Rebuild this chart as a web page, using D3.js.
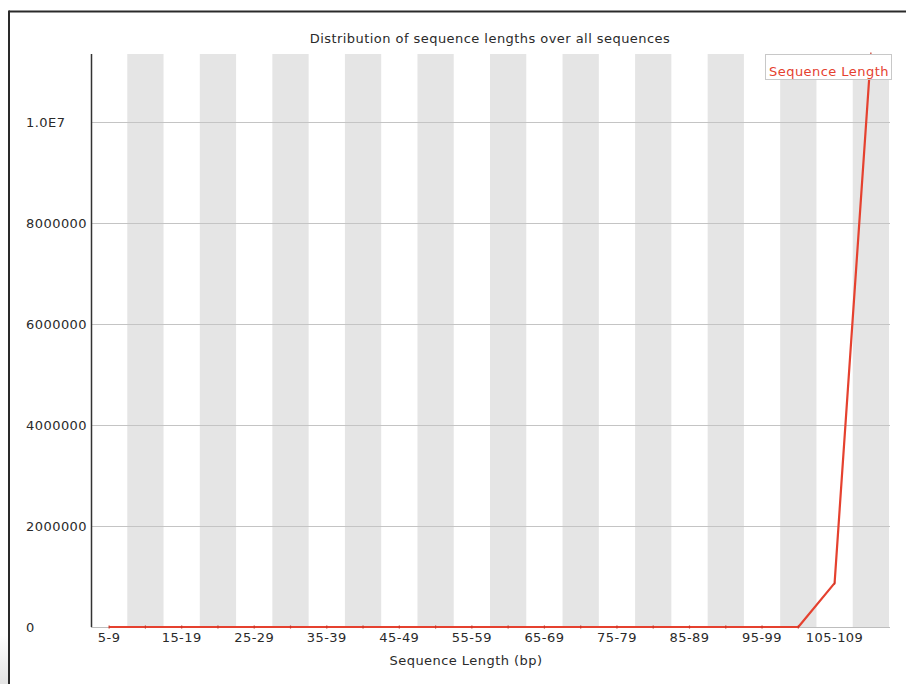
<!DOCTYPE html>
<html>
<head>
<meta charset="utf-8">
<script src="https://cdn.jsdelivr.net/npm/d3@7"></script>
<style>
  html, body { margin: 0; padding: 0; background: #fff; }
  svg { display: block; }
  text { font-family: "DejaVu Sans", sans-serif; fill: #2a2a2a; letter-spacing: 0.45px; }
</style>
</head>
<body>
<svg id="chart" width="906" height="684"></svg>
<script>
// Sequence length bins (bp)
const categories = ["5-9","10-14","15-19","20-24","25-29","30-34","35-39","40-44","45-49","50-54",
  "55-59","60-64","65-69","70-74","75-79","80-84","85-89","90-94","95-99","100-104","105-109","110-114"];
// Number of reads falling into each bin
const counts = [0,0,0,0,0,0,0,0,0,0,0,0,0,0,0,0,0,0,0,0,870000,11350000];
const yTicks = [0, 2000000, 4000000, 6000000, 8000000, 10000000];
const seriesName = "Sequence Length";
const titleText = "Distribution of sequence lengths over all sequences";
const xTitle = "Sequence Length (bp)";

const svg = d3.select("#chart");
const plotL = 91, plotR = 889, plotT = 54, plotB = 627;
const red = "#e5412f";

// soft shadow in the lower-left corner
const defs = svg.append("defs");
const g1 = defs.append("linearGradient").attr("id", "shade").attr("x1", 0).attr("y1", 0).attr("x2", 0).attr("y2", 1);
g1.append("stop").attr("offset", "0%").attr("stop-color", "#fff");
g1.append("stop").attr("offset", "100%").attr("stop-color", "#e4e4e4");
svg.append("rect").attr("x", 0).attr("y", 635).attr("width", 8).attr("height", 49).attr("fill", "url(#shade)");

// window frame
svg.append("line").attr("x1", 9).attr("x2", 906).attr("y1", 11.5).attr("y2", 11.5)
  .attr("stroke", "#2a2a2a").attr("stroke-width", 2);
svg.append("line").attr("x1", 9).attr("x2", 9).attr("y1", 10.5).attr("y2", 684)
  .attr("stroke", "#2a2a2a").attr("stroke-width", 2);

const x = d3.scaleBand().domain(categories).range([plotL, plotR]).padding(0);
const y = d3.scaleLinear().domain([0, d3.max(counts)]).range([plotB, plotT]);

// alternating background bands
svg.append("g").selectAll("rect")
  .data(categories.filter((c, i) => i % 2 === 1))
  .join("rect")
  .attr("x", d => x(d)).attr("y", plotT)
  .attr("width", x.bandwidth()).attr("height", plotB - plotT)
  .attr("fill", "#e5e5e5");

// horizontal grid lines
svg.append("g").selectAll("line")
  .data(yTicks.filter(v => v > 0))
  .join("line")
  .attr("x1", plotL).attr("x2", plotR + 1)
  .attr("y1", d => Math.round(y(d)) + 0.5).attr("y2", d => Math.round(y(d)) + 0.5)
  .attr("stroke", "#c4c4c4").attr("stroke-width", 1);

// y tick labels
const fmt = v => v >= 1e7 ? (v / 1e7).toFixed(1) + "E7" : String(v);
svg.append("g").selectAll("text")
  .data(yTicks)
  .join("text")
  .attr("x", 26).attr("y", d => y(d) + 4.5)
  .attr("font-size", 13)
  .text(fmt);

// axes lines
svg.append("line").attr("x1", plotL).attr("x2", plotR + 1).attr("y1", plotB + 0.5).attr("y2", plotB + 0.5)
  .attr("stroke", "#bdbdbd").attr("stroke-width", 1);
svg.append("line").attr("x1", plotL + 0.5).attr("x2", plotL + 0.5).attr("y1", plotT).attr("y2", plotB)
  .attr("stroke", "#333").attr("stroke-width", 1.5);

// x tick labels (every other bin)
svg.append("g").selectAll("text")
  .data(categories.filter((c, i) => i % 2 === 0))
  .join("text")
  .attr("x", d => x(d) + x.bandwidth() / 2).attr("y", 642)
  .attr("text-anchor", "middle").attr("font-size", 13)
  .text(d => d);

// series line
const pts = categories.map((c, i) => [x(c) + x.bandwidth() / 2, y(counts[i])]);
svg.append("path")
  .attr("d", d3.line()(pts))
  .attr("fill", "none").attr("stroke", red).attr("stroke-width", 2.2)
  .attr("stroke-linejoin", "round");
svg.append("g").selectAll("line")
  .data(pts)
  .join("line")
  .attr("x1", d => d[0]).attr("x2", d => d[0])
  .attr("y1", d => d[1] - 1.5).attr("y2", d => d[1] + 1.5)
  .attr("stroke", "#c8382a").attr("stroke-width", 1.2);

// title and axis title
svg.append("text").attr("x", (plotL + plotR) / 2).attr("y", 43)
  .attr("text-anchor", "middle").attr("font-size", 13).text(titleText);
svg.append("text").attr("x", 466).attr("y", 665)
  .attr("text-anchor", "middle").attr("font-size", 13).text(xTitle);

// legend
const lg = svg.append("g");
lg.append("rect").attr("x", 765.5).attr("y", 54.5).attr("width", 126).attr("height", 25)
  .attr("fill", "#fff").attr("stroke", "#c8c8c8").attr("stroke-width", 1);
lg.append("text").attr("x", 829).attr("y", 76).attr("text-anchor", "middle")
  .attr("font-size", 13).style("fill", red).text(seriesName);
</script>
</body>
</html>
